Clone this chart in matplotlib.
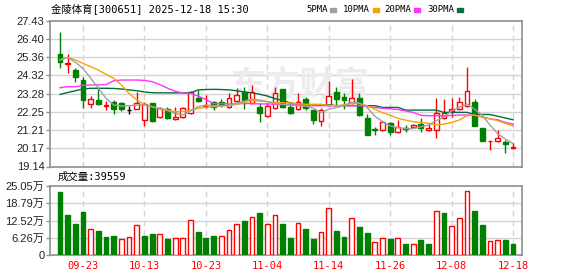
import matplotlib
matplotlib.use('Agg')
import matplotlib.pyplot as plt

# trading days shown (index 0..59)
dates = ['09-18', '09-19', '09-22', '09-23', '09-24', '09-25', '09-26', '09-29', '09-30',
         '10-09', '10-10', '10-13', '10-14', '10-15', '10-16', '10-17', '10-20', '10-21',
         '10-22', '10-23', '10-24', '10-27', '10-28', '10-29', '10-30', '10-31',
         '11-03', '11-04', '11-05', '11-06', '11-07', '11-10', '11-11', '11-12', '11-13',
         '11-14', '11-17', '11-18', '11-19', '11-20', '11-21', '11-24', '11-25', '11-26',
         '11-27', '11-28', '12-01', '12-02', '12-03', '12-04', '12-05', '12-08', '12-09',
         '12-10', '12-11', '12-12', '12-15', '12-16', '12-17', '12-18']
tick_dates = ['09-23', '10-13', '10-23', '11-04', '11-14', '11-26', '12-08', '12-18']

opens = [25.52, 24.95, 24.63, 24.06, 22.68, 22.90, 22.58, 22.83, 22.77, 22.33,
         22.41, 21.78, 22.73, 21.94, 22.39, 21.86, 21.94, 22.16, 23.06, 22.56,
         22.79, 22.79, 22.50, 22.88, 23.40, 22.73, 22.54, 22.01, 22.45, 23.53,
         22.54, 22.39, 22.96, 22.35, 21.75, 22.64, 23.40, 23.07, 22.73, 23.02,
         21.88, 21.25, 21.22, 21.63, 21.12, 21.35, 21.37, 21.54, 21.23, 21.22,
         21.88, 22.30, 22.41, 22.60, 22.79, 21.31, 20.57, 20.61, 20.55, 20.21]
highs = [26.77, 25.52, 24.72, 24.25, 23.17, 23.59, 22.87, 22.90, 22.83, 22.58,
         23.36, 22.79, 22.73, 22.54, 22.54, 22.54, 22.50, 23.45, 23.49, 23.21,
         22.87, 23.00, 23.34, 23.59, 23.64, 23.78, 22.73, 22.73, 23.64, 23.55,
         22.83, 23.34, 23.07, 22.38, 22.45, 24.00, 23.64, 23.30, 24.12, 23.30,
         22.10, 21.40, 21.75, 21.69, 21.78, 21.50, 21.54, 21.88, 21.60, 23.06,
         22.98, 23.02, 23.11, 24.82, 22.98, 21.31, 20.61, 21.22, 20.65, 20.46]
lows = [24.76, 24.44, 23.97, 22.45, 22.45, 22.64, 22.35, 22.11, 22.32, 22.11,
        22.39, 21.46, 21.69, 21.88, 21.82, 21.78, 21.88, 22.13, 22.83, 22.45,
        22.35, 22.54, 22.45, 22.83, 22.39, 22.69, 21.69, 21.97, 22.39, 22.45,
        22.13, 22.35, 22.35, 21.56, 21.46, 22.60, 22.64, 22.39, 22.69, 22.03,
        20.93, 20.93, 21.18, 20.93, 21.03, 21.08, 21.31, 21.08, 21.16, 20.78,
        21.84, 21.97, 22.35, 22.54, 21.46, 20.61, 20.08, 20.51, 19.93, 20.13]
closes = [25.10, 25.05, 24.21, 22.92, 22.98, 22.68, 22.62, 22.39, 22.39, 22.33,
          22.77, 22.68, 21.75, 22.45, 21.88, 21.94, 22.45, 23.40, 22.87, 22.60,
          22.50, 22.62, 23.02, 23.21, 22.92, 23.40, 22.16, 22.58, 23.30, 22.54,
          22.16, 22.83, 22.45, 21.78, 22.35, 23.15, 22.96, 22.94, 23.02, 22.07,
          20.93, 21.22, 21.69, 21.12, 21.40, 21.27, 21.50, 21.35, 21.31, 22.20,
          22.16, 22.39, 22.79, 23.43, 21.46, 20.61, 20.61, 20.74, 20.40, 20.25]

# moving averages as drawn on the chart
ma5 = [25.20, 25.35, 25.07, 24.72, 24.16, 23.59, 23.02, 22.64, 22.58, 22.60,
       22.64, 22.64, 22.54, 22.41, 22.32, 22.16, 22.07, 22.30, 22.54, 22.64,
       22.60, 22.58, 22.64, 22.73, 22.86, 22.98, 22.92, 22.83, 22.71, 22.68,
       22.64, 22.60, 22.58, 22.45, 22.20, 22.40, 22.50, 22.60, 22.80, 22.75,
       22.50, 22.00, 21.70, 21.45, 21.35, 21.30, 21.30, 21.40, 21.50, 21.75,
       21.95, 22.30, 22.50, 22.70, 22.40, 22.05, 21.50, 21.00, 20.70, 20.45]
ma10 = [25.20, 25.35, 25.20, 25.01, 24.82, 24.63, 24.38, 24.16, 23.78, 23.30,
        22.92, 22.68, 22.54, 22.45, 22.35, 22.26, 22.26, 22.35, 22.45, 22.50,
        22.54, 22.58, 22.60, 22.68, 22.79, 22.90, 22.86, 22.83, 22.79, 22.77,
        22.75, 22.71, 22.68, 22.68, 22.68, 22.62, 22.60, 22.65, 22.72, 22.72,
        22.60, 22.40, 22.20, 22.05, 21.88, 21.78, 21.69, 21.65, 21.60, 21.50,
        21.55, 21.65, 21.78, 22.03, 22.07, 21.95, 21.85, 21.75, 21.60, 21.45]
ma20 = [23.62, 23.68, 23.68, 23.75, 23.78, 23.78, 23.80, 24.02, 24.06, 24.06,
        24.06, 24.04, 23.97, 23.80, 23.60, 23.42, 23.32, 23.28, 23.15, 22.95,
        22.72, 22.72, 22.70, 22.70, 22.72, 22.72, 22.70, 22.70, 22.68, 22.66,
        22.65, 22.64, 22.60, 22.60, 22.60, 22.60, 22.60, 22.60, 22.60, 22.60,
        22.55, 22.50, 22.45, 22.42, 22.38, 22.30, 22.22, 22.05, 22.03, 22.03,
        22.03, 22.05, 22.07, 22.07, 22.05, 21.95, 21.85, 21.80, 21.65, 21.55]
ma30 = [23.24, 23.35, 23.45, 23.55, 23.59, 23.59, 23.59, 23.58, 23.55, 23.50,
        23.45, 23.38, 23.34, 23.33, 23.33, 23.33, 23.33, 23.33, 23.50, 23.52,
        23.53, 23.52, 23.50, 23.45, 23.38, 23.33, 23.25, 23.15, 23.00, 22.90,
        22.75, 22.70, 22.65, 22.65, 22.65, 22.65, 22.60, 22.60, 22.60, 22.60,
        22.60, 22.60, 22.50, 22.50, 22.50, 22.35, 22.35, 22.35, 22.35, 22.35,
        22.22, 22.22, 22.22, 22.22, 22.10, 22.10, 22.10, 22.00, 21.90, 21.80]

# volume in 万 shares, and whether the bar is drawn red (up) or green
volumes = [22.9, 14.6, 11.4, 15.6, 9.3, 8.7, 6.5, 6.9, 5.7, 6.4,
           10.9, 6.9, 7.6, 7.5, 5.8, 6.0, 6.0, 12.6, 8.3, 6.2,
           6.9, 6.8, 9.0, 11.1, 12.3, 13.7, 15.2, 11.3, 14.4, 11.4,
           6.2, 11.5, 9.4, 5.8, 8.2, 16.9, 8.7, 6.5, 13.3, 10.2,
           8.0, 4.6, 6.0, 5.8, 6.0, 4.0, 4.0, 5.4, 4.0, 15.9,
           15.2, 10.4, 13.3, 23.1, 16.0, 10.9, 5.0, 5.4, 5.4, 4.0]
vol_up = [0, 0, 0, 0, 1, 0, 0, 0, 1, 1,
          1, 0, 0, 1, 0, 1, 1, 1, 0, 0,
          0, 1, 1, 1, 0, 1, 0, 1, 1, 0,
          0, 1, 0, 0, 1, 1, 0, 0, 1, 0,
          0, 1, 1, 0, 1, 0, 1, 0, 0, 1,
          0, 1, 1, 1, 0, 0, 1, 1, 0, 0]

price_ticks = [19.14, 20.17, 21.21, 22.25, 23.28, 24.32, 25.36, 26.40, 27.43]
vol_ticks = [0, 6.26, 12.52, 18.79, 25.05]
vol_tick_labels = ['0', '6.26万', '12.52万', '18.79万', '25.05万']

title = '金陵体育[300651] 2025-12-18 15:30'
ma_names = ['5PMA', '10PMA', '20PMA', '30PMA']
ma_colors = ['#a0a0a0', '#f5a300', '#ff33ff', '#006f3a']
last_volume = 39559

RED = '#ff0000'
GREEN = '#008000'
FRAME = '#8f8f8f'
GRID = '#d4d4d4'
CJK = ['Liberation Sans', 'Noto Sans CJK SC']

W, H = 578, 276
fig = plt.figure(figsize=(W / 100, H / 100), dpi=100)
fig.patch.set_facecolor('white')


def box(left, top, right, bottom):
    return [left / W, 1 - bottom / H, (right - left) / W, (bottom - top) / H]


ax = fig.add_axes(box(50, 20.8, 522, 166.5))
axv = fig.add_axes(box(50, 186, 522, 255), sharex=ax)

n = len(dates)
xs = list(range(n))
tick_pos = [dates.index(d) for d in tick_dates]

for a in (ax, axv):
    for s in a.spines.values():
        s.set_color(FRAME)
        s.set_linewidth(1.2)
    a.set_facecolor('white')
    for p in tick_pos:
        a.axvline(p, color=GRID, lw=1, ls=(0, (4, 3)), zorder=0)
    a.tick_params(axis='y', length=3, width=1, color=FRAME, pad=1,
                  labelsize=8, labelcolor='#222222')

# price panel
ax.set_ylim(price_ticks[0], price_ticks[-1])
ax.set_yticks(price_ticks)
ax.set_yticklabels(['%.2f' % t for t in price_ticks], family=CJK)
for t in price_ticks[1:-1]:
    ax.axhline(t, color=GRID, lw=1, zorder=0)

ax.text(0.53, 0.56, '东方财富', transform=ax.transAxes, fontsize=25,
        family='Noto Sans CJK SC', fontweight='bold', color='#ececf0',
        ha='center', va='center', zorder=0)

for i in xs:
    o, h, l, c = opens[i], highs[i], lows[i], closes[i]
    if c > o:
        col, face = RED, 'white'
    elif c < o:
        col, face = GREEN, GREEN
    else:
        col, face = 'black', 'black'
    ax.vlines(i, l, h, color=col, lw=1, zorder=2)
    lo, hi = min(o, c), max(o, c)
    ax.bar(i, max(hi - lo, 0.012), bottom=lo, width=0.62, facecolor=face,
           edgecolor=col, lw=1, zorder=3)

for vals, col in zip([ma30, ma20, ma10, ma5], ma_colors[::-1]):
    ax.plot(xs, vals, color=col, lw=1, zorder=4)

ax.tick_params(axis='x', bottom=False, labelbottom=False)

# volume panel
axv.set_ylim(0, vol_ticks[-1])
axv.set_yticks(vol_ticks)
axv.set_yticklabels(vol_tick_labels, family=CJK)
for t in vol_ticks[1:-1]:
    axv.axhline(t, color=GRID, lw=1, zorder=0)
for i in xs:
    if vol_up[i]:
        axv.bar(i, volumes[i], width=0.62, facecolor='white', edgecolor=RED,
                lw=1, zorder=3)
    else:
        axv.bar(i, volumes[i], width=0.62, facecolor=GREEN, edgecolor=GREEN,
                lw=1, zorder=3)

axv.set_xlim(-1.30, n + 0.17)
axv.set_xticks(tick_pos)
axv.set_xticklabels(tick_dates, family='DejaVu Sans Mono', fontsize=7.5,
                    color=RED)
axv.tick_params(axis='x', length=0, pad=4)

# header texts
fig.text(51 / W, 1 - 9 / H, title, family=['DejaVu Sans Mono', 'Noto Sans CJK SC'],
         fontsize=7.5, va='center', ha='left', color='black')
lx = [306, 343, 384, 427]
for name, col, x0 in zip(ma_names, ma_colors, lx):
    t = fig.text(x0 / W, 1 - 9 / H, name, family='DejaVu Sans Mono', fontsize=6.5,
                 va='center', ha='left', color='black')
    sx = x0 + 5.6 * len(name) + 2
    fig.patches.append(plt.Rectangle((sx / W, 1 - 12 / H), 6 / W, 4 / H,
                                     transform=fig.transFigure, color=col))

fig.text(58 / W, 1 - 177 / H, '成交量:%d' % last_volume,
         family=['DejaVu Sans Mono', 'Noto Sans CJK SC'], fontsize=7.5,
         va='center', ha='left', color='black')

fig.savefig('out.png', dpi=100)
